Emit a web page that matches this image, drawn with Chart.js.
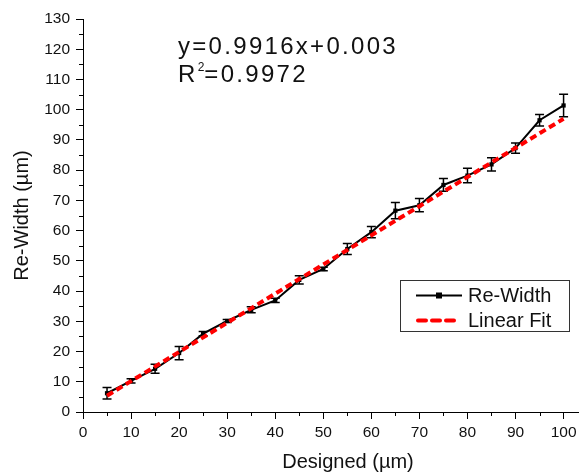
<!DOCTYPE html>
<html><head><meta charset="utf-8">
<script src="https://cdn.jsdelivr.net/npm/chart.js@4.4.1/dist/chart.umd.min.js"></script>
<style>
html,body{margin:0;padding:0;background:#fff;}
#wrap{position:relative;width:582px;height:475px;overflow:hidden;}
#c{position:absolute;left:0;top:0;}
.ann{position:absolute;left:178px;font-family:"Liberation Sans",Arial,sans-serif;font-size:24px;letter-spacing:2.3px;color:#111;white-space:nowrap;line-height:24px;}
.ann .sup{position:relative;top:-11px;font-size:12px;letter-spacing:0;}
</style></head>
<body>
<div id="wrap">
<canvas id="c" width="582" height="475"></canvas>
<div class="ann" style="top:34px">y=0.9916x+0.003</div>
<div class="ann" style="top:62px">R<span class="sup">2</span>=0.9972</div>
</div>
<script>
// ---- data ----
const designed = [5,10,15,20,25,30,35,40,45,50,55,60,65,70,75,80,85,90,95,100];
const reWidth  = [6.2,10.3,14.3,19.5,25.9,30.1,33.8,36.9,43.7,47.3,53.9,59.5,66.6,68.4,75.1,78.2,81.9,87.3,96.5,101.4];
const reWidthErr = [1.9,0.7,1.5,2.2,0.7,0.5,1.0,0.7,1.4,0.6,1.8,1.9,2.7,2.2,2.1,2.4,2.2,1.7,1.9,3.7];
const fitX = [5,100];
const fitY = [5.4,97.0];
const xTicks = [0,10,20,30,40,50,60,70,80,90,100];
const yTicks = [0,10,20,30,40,50,60,70,80,90,100,110,120,130];
const xMinor = [5,15,25,35,45,55,65,75,85,95];
const yMinor = [5,15,25,35,45,55,65,75,85,95,105,115,125];
const seriesLabels = ['Re-Width','Linear Fit'];
const xTitle = 'Designed (µm)';
const yTitle = 'Re-Width (µm)';

const FONT = '"Liberation Sans", Arial, sans-serif';

const errorBars = {
  id:'errorBars',
  beforeDatasetsDraw(chart){
    const {ctx, scales:{x,y}} = chart;
    ctx.save();
    ctx.strokeStyle = '#000';
    ctx.lineWidth = 1.5;
    designed.forEach((d,i)=>{
      const px = x.getPixelForValue(d);
      const yt = y.getPixelForValue(reWidth[i]+reWidthErr[i]);
      const yb = y.getPixelForValue(reWidth[i]-reWidthErr[i]);
      ctx.beginPath();
      ctx.moveTo(px,yt); ctx.lineTo(px,yb);
      ctx.moveTo(px-4.5,yt); ctx.lineTo(px+4.5,yt);
      ctx.moveTo(px-4.5,yb); ctx.lineTo(px+4.5,yb);
      ctx.stroke();
    });
    ctx.restore();
  }
};

const extras = {
  id:'extras',
  afterDraw(chart){
    const {ctx, scales:{x,y}, chartArea} = chart;
    ctx.save();
    // minor ticks
    ctx.strokeStyle='#000'; ctx.lineWidth=1;
    ctx.beginPath();
    xMinor.forEach(v=>{const px=Math.round(x.getPixelForValue(v))+0.5; ctx.moveTo(px,chartArea.bottom); ctx.lineTo(px,chartArea.bottom+4);});
    yMinor.forEach(v=>{const py=Math.round(y.getPixelForValue(v))+0.5; ctx.moveTo(chartArea.left,py); ctx.lineTo(chartArea.left-4,py);});
    ctx.stroke();
    // x title
    ctx.fillStyle='#111';
    ctx.font = '20px '+FONT;
    ctx.textAlign='center'; ctx.textBaseline='middle';
    ctx.fillText(xTitle, 348, 462);
    // legend
    const L=400.5, T=280.5, W=169, H=51;
    ctx.strokeStyle='#333'; ctx.lineWidth=1;
    ctx.strokeRect(L,T,W,H);
    ctx.font='20px '+FONT; ctx.textAlign='left'; ctx.textBaseline='middle';
    // item 1
    ctx.strokeStyle='#000'; ctx.lineWidth=2;
    ctx.beginPath(); ctx.moveTo(416,295.5); ctx.lineTo(462,295.5); ctx.stroke();
    ctx.fillStyle='#000'; ctx.fillRect(436,292.5,6,6);
    ctx.fillStyle='#111'; ctx.fillText(seriesLabels[0],468,296);
    // item 2
    ctx.strokeStyle='#ff0000'; ctx.lineWidth=4; ctx.setLineDash([8,6]); ctx.lineCap='round';
    ctx.beginPath(); ctx.moveTo(418,320.5); ctx.lineTo(458,320.5); ctx.stroke();
    ctx.setLineDash([]);
    ctx.fillStyle='#111'; ctx.fillText(seriesLabels[1],468,321);
    ctx.restore();
  }
};

new Chart(document.getElementById('c'), {
  type:'scatter',
  data:{
    datasets:[
      {label:seriesLabels[0], data:designed.map((d,i)=>({x:d,y:reWidth[i]})), showLine:true,
       borderColor:'#000', backgroundColor:'#000', borderWidth:2, pointStyle:'rect', pointRadius:3,
       pointBorderWidth:0, order:2},
      {label:seriesLabels[1], data:fitX.map((d,i)=>({x:d,y:fitY[i]})), showLine:true,
       borderColor:'#ff0000', borderWidth:4, borderDash:[7,4], pointRadius:0, order:1}
    ]
  },
  options:{
    responsive:false, devicePixelRatio:1, animation:false,
    layout:{padding:{top:19,right:0,left:0,bottom:0}},
    plugins:{legend:{display:false}, tooltip:{enabled:false}},
    scales:{
      x:{type:'linear', min:0, max:103,
         afterBuildTicks(s){ s.ticks = xTicks.map(v=>({value:v})); },
         afterFit(s){ s.height = 63; },
         border:{display:true,color:'#000',width:1},
         grid:{display:true, drawOnChartArea:false, drawTicks:true, tickLength:7, color:'#000'},
         ticks:{color:'#111', font:{family:FONT,size:15.5}, padding:4, maxRotation:0, autoSkip:false}
      },
      y:{type:'linear', min:0, max:130,
         afterBuildTicks(s){ s.ticks = yTicks.map(v=>({value:v})); },
         afterFit(s){ s.width = 83; },
         border:{display:true,color:'#000',width:1},
         grid:{display:true, drawOnChartArea:false, drawTicks:true, tickLength:7, color:'#000'},
         ticks:{color:'#111', font:{family:FONT,size:15.5}, padding:6, autoSkip:false},
         title:{display:true, text:yTitle, color:'#111', font:{family:FONT,size:20}, padding:{top:10,bottom:0}}
      }
    }
  },
  plugins:[errorBars, extras]
});
</script>
</body></html>
